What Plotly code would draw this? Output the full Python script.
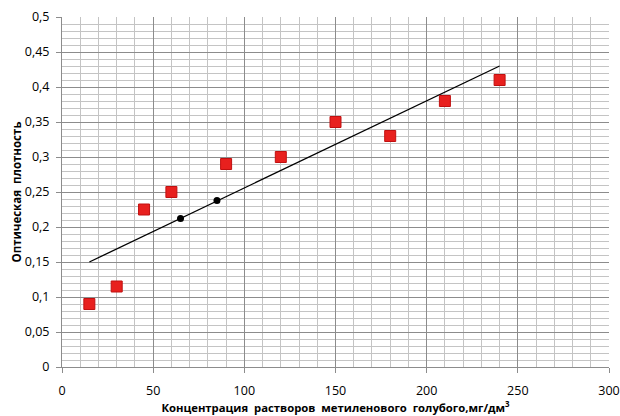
import plotly.graph_objects as go

conc = [15, 30, 45, 60, 90, 120, 150, 180, 210, 240]
density = [0.09, 0.115, 0.225, 0.25, 0.29, 0.30, 0.35, 0.33, 0.38, 0.41]
dots_x = [65, 85]
dots_y = [0.212, 0.238]
trend_x = [15, 240]
trend_y = [0.15, 0.43]

font_family = "Open Sans, Liberation Sans, Arial"

fig = go.Figure()
fig.add_trace(go.Scatter(x=trend_x, y=trend_y, mode="lines",
                         line=dict(color="black", width=1.3), showlegend=False))
fig.add_trace(go.Scatter(x=conc, y=density, mode="markers",
                         marker=dict(symbol="square", size=11, color="#e8201e",
                                     line=dict(color="#c01010", width=1)),
                         showlegend=False))
fig.add_trace(go.Scatter(x=dots_x, y=dots_y, mode="markers",
                         marker=dict(symbol="circle", size=7, color="black"),
                         showlegend=False))

fig.update_layout(
    width=620, height=416,
    margin=dict(l=62, r=11, t=17, b=49, autoexpand=False),
    paper_bgcolor="white", plot_bgcolor="white",
    font=dict(family=font_family, size=12, color="black"),
    xaxis=dict(range=[0, 300], dtick=50, tick0=0,
               showgrid=True, gridcolor="#8c8c8c", gridwidth=1,
               minor=dict(dtick=10, showgrid=True, gridcolor="#c4c4c4", gridwidth=1),
               showline=True, linecolor="#8c8c8c", linewidth=1,
               ticks="outside", ticklen=5, tickcolor="#8c8c8c",
               zeroline=False, automargin=False, ticklabelstandoff=7,
               tickfont=dict(size=12.5),
               title=dict(text="<b>Концентрация  растворов  метиленового  голубого,мг/дм<sup>3</sup></b>",
                          font=dict(size=11.3), standoff=5)),
    yaxis=dict(range=[0, 0.5], dtick=0.05, tick0=0,
               showgrid=True, gridcolor="#8c8c8c", gridwidth=1,
               minor=dict(dtick=0.01, showgrid=True, gridcolor="#c4c4c4", gridwidth=1),
               showline=True, linecolor="#8c8c8c", linewidth=1,
               ticks="outside", ticklen=5, tickcolor="#8c8c8c",
               zeroline=False, automargin=False, ticklabelstandoff=4,
               tickfont=dict(size=12.5),
               title=dict(text="<b>Оптическая  плотность</b>", font=dict(size=11.5), standoff=0)),
    separators=", ",
)

fig.write_html("out.html", config={"displayModeBar": False},
               post_script="document.body.style.margin='0';document.body.style.overflow='hidden';")
